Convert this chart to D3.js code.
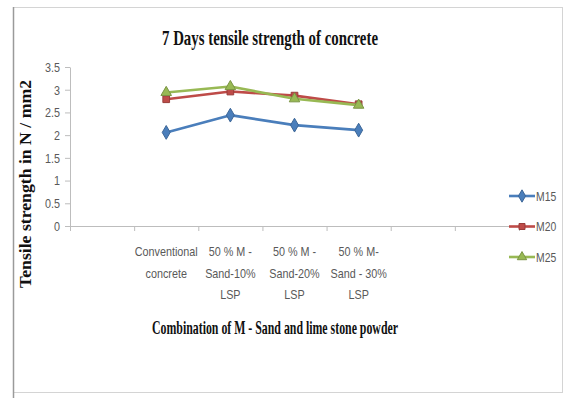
<!DOCTYPE html>
<html>
<head>
<meta charset="utf-8">
<script src="https://cdn.jsdelivr.net/npm/d3@7"></script>
<style>
  html, body { margin: 0; padding: 0; background: #ffffff; }
  svg { display: block; }
  .tick-label { font-family: "Liberation Sans Narrow", "Liberation Sans", Arial, sans-serif; fill: #595959; }
  .serif-bold { font-family: "Liberation Serif", "Times New Roman", serif; font-weight: bold; fill: #111; }
</style>
</head>
<body>
<svg id="chart" width="566" height="398"></svg>
<script>
// Category slots along the x axis (blank slots are empty categories)
const categories = [
  "",
  "Conventional\nconcrete",
  "50 % M -\nSand-10%\nLSP",
  "50 % M -\nSand-20%\nLSP",
  "50 % M-\nSand - 30%\nLSP",
  "",
  ""
];

// 7-day tensile strength (N/mm2) per mix
const m15 = [null, 2.06, 2.44, 2.22, 2.11, null, null];
const m20 = [null, 2.79, 2.96, 2.87, 2.68, null, null];
const m25 = [null, 2.94, 3.07, 2.80, 2.66, null, null];

const seriesNames = ["M15", "M20", "M25"];
const yTicks = [0, 0.5, 1, 1.5, 2, 2.5, 3, 3.5];

const chartTitle = "7 Days tensile strength of concrete";
const yTitle = "Tensile strength in N / mm2";
const xTitle = "Combination of M - Sand and lime stone powder";

const series = [
  { name: seriesNames[0], values: m15, color: "#4a7ebb", marker: d3.symbolDiamond, size: 55 },
  { name: seriesNames[1], values: m20, color: "#be4b48", marker: d3.symbolSquare, size: 45 },
  { name: seriesNames[2], values: m25, color: "#98b954", marker: d3.symbolTriangle, size: 48 }
];

// Squeeze text horizontally to a narrow face
function condense(sel, factor) {
  sel.each(function () {
    const w = this.getComputedTextLength();
    if (w > 0) {
      d3.select(this).attr("textLength", (w * factor).toFixed(1)).attr("lengthAdjust", "spacingAndGlyphs");
    }
  });
}

const svg = d3.select("#chart");

// Outer chart frame
svg.append("rect")
  .attr("x", 13.5).attr("y", 7.5).attr("width", 549).attr("height", 385)
  .attr("fill", "#fff").attr("stroke", "#d4d4d4").attr("stroke-width", 1);
svg.append("line")
  .attr("x1", 13.5).attr("x2", 13.5).attr("y1", 7).attr("y2", 398)
  .attr("stroke", "#9a9a9a").attr("stroke-width", 1.5);

const plot = { left: 70, right: 519, top: 67, bottom: 226 };

const x = d3.scaleLinear().domain([0, categories.length]).range([plot.left, plot.right]);
const y = d3.scaleLinear().domain([0, 3.5]).range([plot.bottom, plot.top]);

// Y axis
const yAxis = svg.append("g")
  .attr("transform", `translate(${plot.left},0)`)
  .call(d3.axisLeft(y).tickValues(yTicks).tickFormat(d => String(d)).tickSize(5).tickSizeOuter(0).tickPadding(5));
yAxis.select(".domain").attr("stroke", "#bdbdbd");
yAxis.selectAll(".tick line").attr("stroke", "#bdbdbd");
yAxis.selectAll(".tick text").attr("class", "tick-label").attr("font-size", 13.5).attr("font-family", null);
condense(yAxis.selectAll(".tick text"), 0.8);

// X axis: tick marks at category boundaries
const xAxis = svg.append("g")
  .attr("transform", `translate(0,${plot.bottom})`)
  .call(d3.axisBottom(x).tickValues(d3.range(categories.length + 1)).tickFormat("").tickSize(5).tickSizeOuter(0));
xAxis.select(".domain").attr("stroke", "#bdbdbd");
xAxis.selectAll(".tick line").attr("stroke", "#bdbdbd");

// Category labels centred in their slots
const labels = svg.append("g");
categories.forEach((c, i) => {
  if (!c) return;
  c.split("\n").forEach((line, k) => {
    labels.append("text")
      .attr("class", "tick-label")
      .attr("font-size", 13.5)
      .attr("text-anchor", "middle")
      .attr("x", x(i + 0.5))
      .attr("y", 256 + k * 21.5)
      .text(line);
  });
});
condense(labels.selectAll("text"), 0.8);

// Series lines and markers
const line = d3.line()
  .defined(d => d.v !== null)
  .x(d => x(d.i + 0.5))
  .y(d => y(d.v));

series.forEach(s => {
  const pts = s.values.map((v, i) => ({ v, i }));
  svg.append("path")
    .datum(pts)
    .attr("fill", "none")
    .attr("stroke", s.color)
    .attr("stroke-width", 2.6)
    .attr("stroke-linejoin", "round")
    .attr("d", line);
  svg.append("g").selectAll("path")
    .data(pts.filter(d => d.v !== null))
    .join("path")
    .attr("transform", d => `translate(${x(d.i + 0.5)},${y(d.v)})`)
    .attr("d", d3.symbol().type(s.marker).size(s.size))
    .attr("fill", s.color)
    .attr("stroke", d3.color(s.color).darker(0.6))
    .attr("stroke-width", 1);
});

// Legend
const legend = svg.append("g");
series.forEach((s, k) => {
  const ly = 196 + k * 30.5;
  legend.append("line")
    .attr("x1", 509).attr("x2", 535).attr("y1", ly).attr("y2", ly)
    .attr("stroke", s.color).attr("stroke-width", 2.6);
  legend.append("path")
    .attr("transform", `translate(522,${ly})`)
    .attr("d", d3.symbol().type(s.marker).size(s.size * 0.8))
    .attr("fill", s.color)
    .attr("stroke", d3.color(s.color).darker(0.6))
    .attr("stroke-width", 1);
  legend.append("text")
    .attr("class", "tick-label legend-text")
    .attr("font-size", 13)
    .attr("x", 536).attr("y", ly + 4.5)
    .text(s.name);
});
condense(legend.selectAll("text"), 0.8);

// Titles
svg.append("text")
  .attr("class", "serif-bold")
  .attr("font-size", 21)
  .attr("text-anchor", "middle")
  .attr("x", 270).attr("y", 45)
  .attr("textLength", 216).attr("lengthAdjust", "spacingAndGlyphs")
  .text(chartTitle);

svg.append("text")
  .attr("class", "serif-bold")
  .attr("font-size", 17)
  .attr("text-anchor", "middle")
  .attr("transform", "translate(31,184) rotate(-90)")
  .attr("textLength", 208).attr("lengthAdjust", "spacingAndGlyphs")
  .text(yTitle);

svg.append("text")
  .attr("class", "serif-bold")
  .attr("font-size", 19.5)
  .attr("text-anchor", "middle")
  .attr("x", 275).attr("y", 334)
  .attr("textLength", 246).attr("lengthAdjust", "spacingAndGlyphs")
  .text(xTitle);
</script>
</body>
</html>
